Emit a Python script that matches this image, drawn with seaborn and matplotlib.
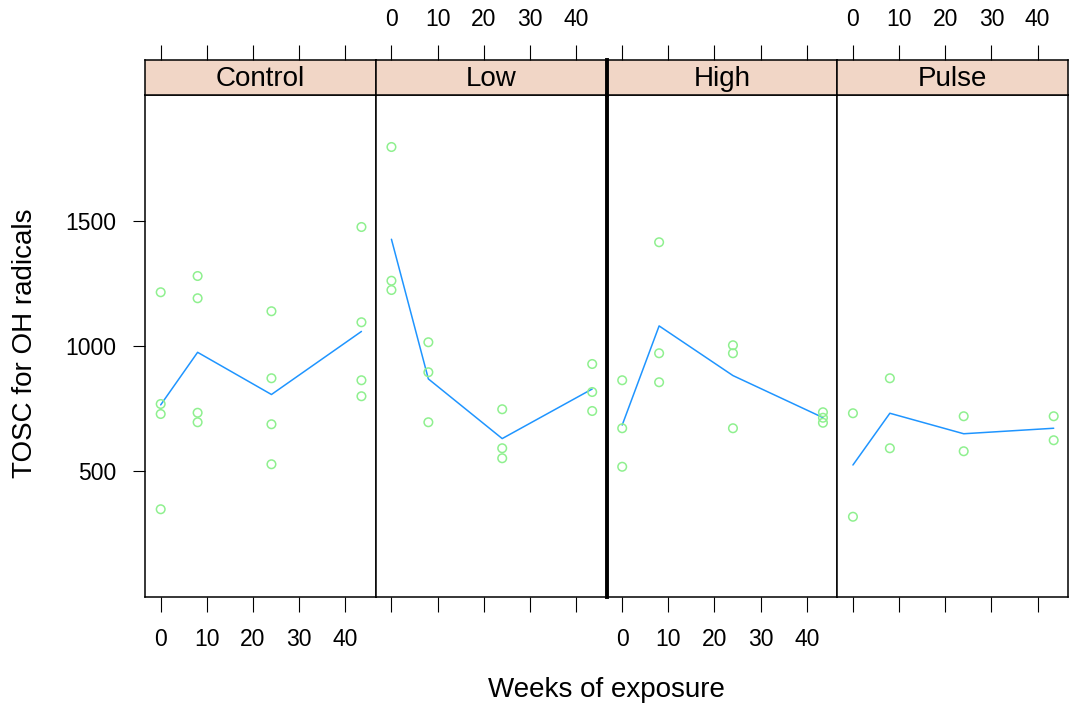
import matplotlib
matplotlib.use("Agg")
import matplotlib.pyplot as plt
import matplotlib.font_manager as fm
import seaborn as sns
import pandas as pd

# ---- data ----
groups = ["Control", "Low", "High", "Pulse"]
weeks = [0, 8, 24, 43.5]
control_vals = [[1215, 768, 728, 347], [1280, 1191, 733, 695],
                [1139, 871, 687, 527], [1476, 1095, 863, 799]]
low_vals = [[1796, 1261, 1224], [1015, 895, 695],
            [747, 591, 551], [928, 816, 740]]
high_vals = [[863, 671, 517], [1415, 971, 855],
             [1003, 971, 671], [735, 713, 693]]
pulse_vals = [[731, 317], [871, 591], [719, 579], [719, 623]]
x_ticks = [0, 10, 20, 30, 40]
y_ticks = [500, 1000, 1500]

rows = []
for g, vals in zip(groups, [control_vals, low_vals, high_vals, pulse_vals]):
    for w, vs in zip(weeks, vals):
        for v in vs:
            rows.append({"group": g, "week": w, "tosc": v})
df = pd.DataFrame(rows)

sns.set_theme(style="white")
installed = {f.name for f in fm.fontManager.ttflist}
main_font = ["Liberation Sans", "DejaVu Sans"]
tick_font = (["Liberation Sans Narrow"] if "Liberation Sans Narrow" in installed else []) + main_font
plt.rcParams["font.family"] = main_font
plt.rcParams["text.color"] = "black"

W, Hpx = 1070, 706
fig = plt.figure(figsize=(W / 100, Hpx / 100), dpi=100)
fig.patch.set_facecolor("white")

left_px, right_px = 145, 1068
top_px, bot_px = 95, 597
strip_px = 35
pw = (right_px - left_px) / 4

green = "#8ff08f"
blue = "#1f95ff"
strip_col = "#f1d6c6"
lw_border = 1.1
tick_len = 15 * 0.72

for i, g in enumerate(groups):
    x0 = (left_px + i * pw) / W
    ax = fig.add_axes([x0, 1 - bot_px / Hpx, pw / W, (bot_px - top_px) / Hpx])
    st = fig.add_axes([x0, 1 - top_px / Hpx, pw / W, strip_px / Hpx], sharex=ax)
    sub = df[df["group"] == g]
    sns.lineplot(data=sub, x="week", y="tosc", estimator="mean", errorbar=None,
                 ax=ax, color=blue, linewidth=1.1)
    sns.scatterplot(data=sub, x="week", y="tosc", ax=ax, marker="o",
                    facecolors="none", edgecolors=green, linewidths=1.1, s=38, zorder=3)
    ax.set_xlim(-3.4, 46.6)
    ax.set_ylim(-4, 2004)
    ax.set_xlabel("")
    ax.set_ylabel("")
    ax.set_xticks(x_ticks)
    ax.set_xticklabels([str(t) for t in x_ticks])
    ax.tick_params(axis="x", bottom=True, top=False, labelbottom=(i % 2 == 0),
                   direction="out", length=tick_len, width=0.8, pad=11.5,
                   labelsize=16.5, colors="black")
    if i == 0:
        ax.set_yticks(y_ticks)
        ax.set_yticklabels([str(t) for t in y_ticks])
        ax.tick_params(axis="y", left=True, labelleft=True, direction="out",
                       length=12 * 0.72, width=0.8, pad=12, labelsize=16.5,
                       colors="black")
    else:
        ax.set_yticks([])
    for lab in ax.get_xticklabels() + ax.get_yticklabels():
        lab.set_family(tick_font)
    for sp in ax.spines.values():
        sp.set_color("black")
        sp.set_linewidth(lw_border)

    st.set_facecolor(strip_col)
    st.set_yticks([])
    st.tick_params(axis="x", bottom=False, top=True, labelbottom=False,
                   labeltop=(i % 2 == 1), direction="out", length=tick_len,
                   width=0.8, pad=10, labelsize=16.5, colors="black")
    for lab in st.get_xticklabels():
        lab.set_family(tick_font)
    for sp in st.spines.values():
        sp.set_color("black")
        sp.set_linewidth(lw_border)
    st.text(0.5, 0.45, g, transform=st.transAxes, ha="center", va="center",
            fontsize=20, color="black")
    if i == 2:
        ax.spines["left"].set_linewidth(2.8)
        st.spines["left"].set_linewidth(2.8)

fig.text(25 / W, 1 - 343.5 / Hpx, "TOSC for OH radicals", rotation=90,
         ha="center", va="center", fontsize=20, color="black")
fig.text(606 / W, 1 - 697 / Hpx, "Weeks of exposure", ha="center",
         va="baseline", fontsize=20, color="black")

fig.savefig("out.png", dpi=100, facecolor="white")
